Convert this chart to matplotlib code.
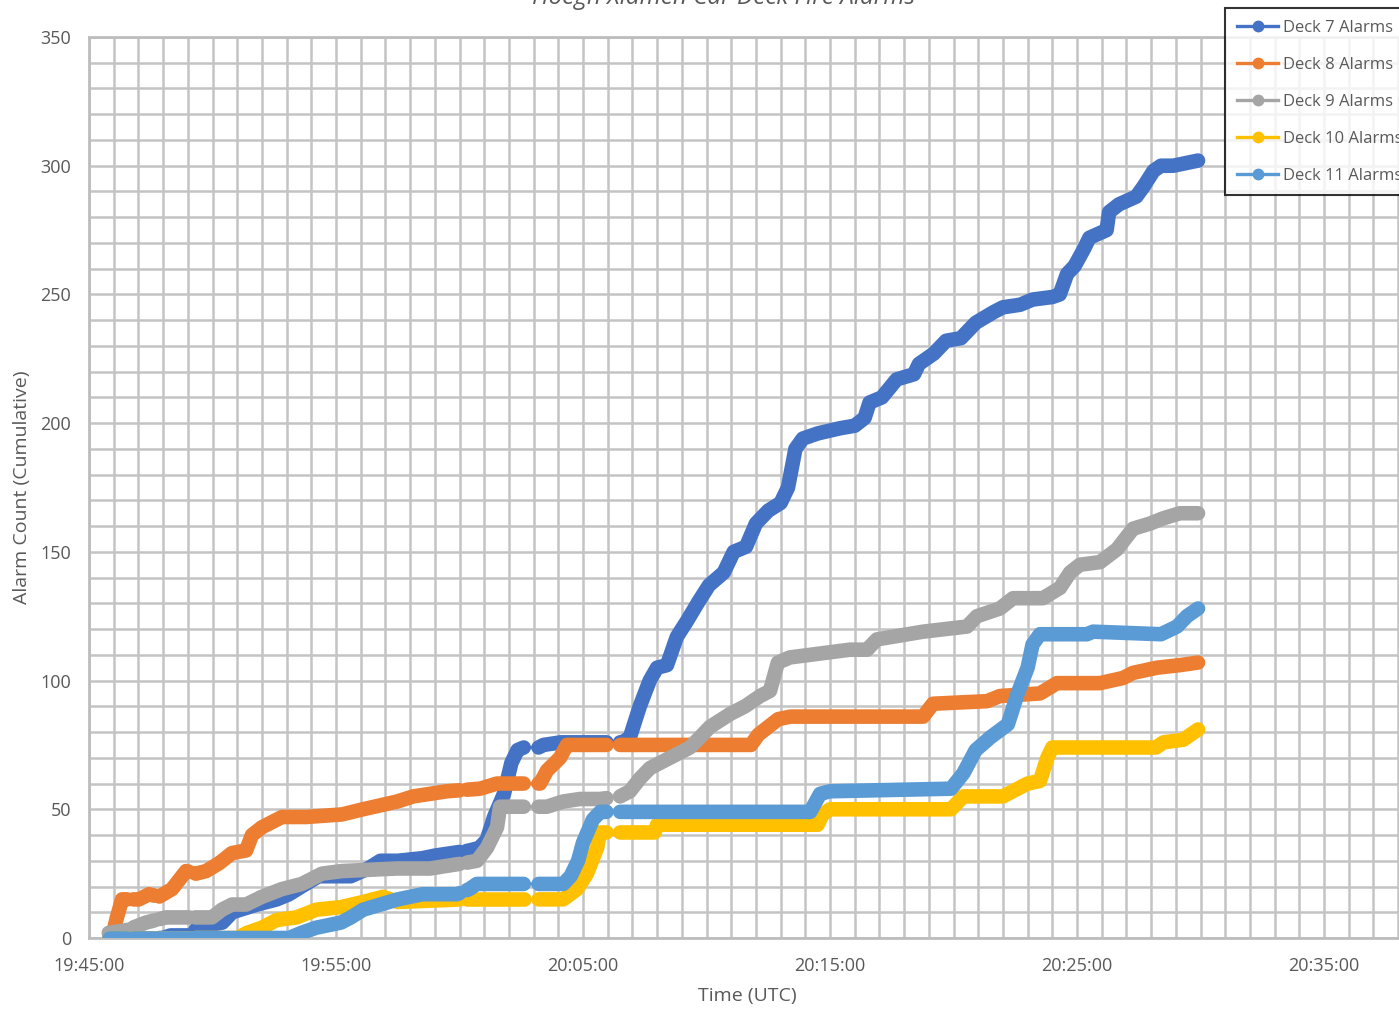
import numpy as np
import matplotlib
matplotlib.use("Agg")
import matplotlib.pyplot as plt
from matplotlib.lines import Line2D

plt.rcParams['font.family'] = ['Open Sans', 'DejaVu Sans']

# ---------------- data (time in minutes after 19:45:00 UTC) ----------------
deck7_t = [0.8, 3.0, 3.3, 4.1, 4.4, 5.4, 5.8, 6.8, 7.6, 8.1, 8.6, 9.3, 10.6, 11.3, 11.8, 12.5,
           13.5, 14.0, 14.7, 15.4, 15.8, 16.1, 16.4, 16.8, 17.1, 17.35, 17.6, 18.2, 18.4, 19.1,
           21.6, 21.9, 22.3, 22.7, 23.0, 23.4, 23.8, 24.2, 24.7, 25.1, 25.7, 26.1, 26.6, 27.0,
           27.5, 28.0, 28.3, 28.6, 28.9, 29.5, 30.4, 31.0, 31.4, 31.6, 32.1, 32.7, 33.4, 33.6,
           34.2, 34.7, 35.3, 35.9, 36.6, 37.0, 37.7, 38.2, 39.0, 39.3, 39.6, 39.9, 40.3, 40.5,
           41.2, 41.3, 41.7, 42.4, 42.7, 43.1, 43.4, 43.9, 44.4, 44.9]
deck7_v = [0, 0, 1, 1, 4, 6, 10, 13, 15, 17, 20, 24, 24, 27, 30, 30,
           31, 32, 33, 34, 35, 38, 47, 56, 68, 73, 74, 74, 75, 76,
           76, 78, 90, 100, 105, 106, 117, 123, 131, 137, 142, 150, 152, 161,
           166, 169, 175, 190, 194, 196, 198, 199, 202, 208, 210, 217, 219, 223,
           227, 232, 233, 239, 243, 245, 246, 248, 249, 250, 258, 261, 268, 272,
           275, 282, 285, 288, 292, 298, 300, 300, 301, 302]

deck8_t = [0.93, 1.13, 1.34, 2.02, 2.43, 2.83, 3.36, 3.93, 4.33, 4.74, 5.26, 5.79, 6.36, 6.6,
           7.0, 7.81, 8.79, 10.24, 11.09, 12.47, 13.12, 14.49, 15.83, 16.52, 17.45, 18.26,
           18.54, 19.07, 19.35, 26.8, 27.1, 27.5, 27.9, 28.4, 33.77, 34.17, 36.36, 36.88,
           38.5, 39.19, 40.93, 41.86, 42.27, 43.24, 44.17, 44.9]
deck8_v = [0, 8, 15, 15, 17, 16, 19, 26, 25, 26, 29, 33, 34, 40,
           43, 47, 47, 48, 50, 53, 55, 57, 58, 60, 60, 60,
           65, 70, 75, 75, 79, 82, 85, 86, 86, 91, 92, 94,
           95, 99, 99, 101, 103, 105, 106, 107]

deck9_t = [0.8, 1.5, 2.31, 3.12, 4.98, 5.38, 5.79, 6.36, 7.0, 7.81, 8.62, 9.43, 10.24, 12.47,
           13.81, 15.14, 15.71, 16.11, 16.52, 16.64, 17.45, 18.54, 19.19, 19.88, 20.69, 21.5,
           21.9, 22.31, 22.71, 23.52, 24.33, 24.74, 25.14, 25.95, 26.56, 27.17, 27.57, 27.89,
           28.38, 29.19, 30.0, 30.81, 31.5, 31.9, 33.77, 35.55, 35.95, 36.88, 37.41, 38.62,
           39.31, 39.72, 40.12, 40.93, 41.62, 42.27, 42.96, 43.48, 44.17, 44.9]
deck9_v = [2, 3, 6, 8, 8, 11, 13, 13, 16, 19, 21, 25, 26, 27,
           27, 29, 30, 35, 43, 51, 51, 51, 53, 54, 54, 55,
           57, 62, 66, 70, 74, 78, 82, 87, 90, 94, 96, 107,
           109, 110, 111, 112, 112, 116, 119, 121, 125, 128, 132, 132,
           136, 142, 145, 146, 151, 159, 161, 163, 165, 165]

deck10_t = [0.8, 6.0, 6.4, 7.0, 7.6, 8.4, 9.2, 10.2, 11.1, 11.9, 12.5, 15.1, 19.2, 19.76,
            20.16, 20.57, 20.69, 21.5, 22.9, 23.0, 29.5, 29.7, 30.0, 34.9, 35.4, 37.0, 37.4,
            38.0, 38.5, 38.8, 39.0, 43.2, 43.5, 44.3, 44.9]
deck10_v = [0, 0, 2, 4, 7, 8, 11, 12, 14, 16, 14, 15, 15, 19,
            25, 35, 41, 41, 41, 44, 44, 48, 50, 50, 55, 55, 57,
            60, 61, 70, 74, 74, 76, 77, 81]

deck11_t = [0.8, 8.1, 8.6, 9.2, 10.2, 10.6, 11.1, 11.8, 12.5, 13.5, 14.9, 15.4, 15.7, 19.2,
            19.5, 19.8, 20.0, 20.4, 20.7, 29.2, 29.6, 30.0, 34.9, 35.4, 35.9, 36.5, 37.2,
            37.6, 38.0, 38.2, 38.5, 40.4, 40.65, 43.4, 44.05, 44.45, 44.9]
deck11_v = [0, 0, 2, 4, 6, 8, 11, 13, 15, 17, 17, 19, 21, 21,
            24, 30, 37, 46, 49, 49, 56, 57, 58, 64, 73, 78, 83,
            95, 105, 114, 118, 118, 119, 118, 121, 125, 128]

# quiet intervals with no alarm events (minutes after 19:45)
gaps = [(1.55, 1.8), (2.65, 2.85), (4.05, 4.3), (15.0, 15.3), (17.6, 18.2), (20.95, 21.5)]

series_names = ['Deck 7 Alarms', 'Deck 8 Alarms', 'Deck 9 Alarms', 'Deck 10 Alarms', 'Deck 11 Alarms']
series_colors = ['#4472C4', '#ED7D31', '#A5A5A5', '#FFC000', '#5B9BD5']
x_tick_pos = [0, 10, 20, 30, 40, 50]
x_tick_labels = ['19:45:00', '19:55:00', '20:05:00', '20:15:00', '20:25:00', '20:35:00']
y_ticks = [0, 50, 100, 150, 200, 250, 300, 350]

# ---------------- figure ----------------
W, H = 1399, 1009
fig = plt.figure(figsize=(W / 100, H / 100), dpi=100)
ax = fig.add_axes([89 / W, 1 - 938 / H, (1447.5 - 89) / W, (938 - 37) / H])
ax.set_xlim(0, 55)
ax.set_ylim(0, 350)

ax.set_xticks(x_tick_pos)
ax.set_xticklabels(x_tick_labels)
ax.set_xticks(np.arange(0, 56, 1), minor=True)
ax.set_yticks(y_ticks)
ax.set_yticks(np.arange(0, 351, 10), minor=True)
ax.tick_params(which='both', length=0)
ax.tick_params(axis='x', pad=13.5, labelsize=13, labelcolor='#595959')
ax.tick_params(axis='y', pad=13, labelsize=13, labelcolor='#595959')
ax.grid(which='both', color='#c4c4c4', lw=1.8)
ax.set_axisbelow(True)
for s in ax.spines.values():
    s.set_color('#bdbdbd')
    s.set_linewidth(2)

ax.set_xlabel('Time (UTC)', fontsize=14, color='#595959')
ax.xaxis.set_label_coords((747 - 89) / 1358.5, (938 - 996) / 901)
ax.xaxis.label.set_va('center')
ax.set_ylabel('Alarm Count (Cumulative)', fontsize=14, color='#595959')
ax.yaxis.set_label_coords((22 - 89) / 1358.5, (938 - 487) / 901)
ax.yaxis.label.set_va('center')

fig.text(724 / W, 1 - 4 / H, 'Hoegh Xiamen Car Deck Fire Alarms', fontsize=17.5,
         style='italic', color='#595959', ha='center', va='baseline')

all_t = [deck7_t, deck8_t, deck9_t, deck10_t, deck11_t]
all_v = [deck7_v, deck8_v, deck9_v, deck10_v, deck11_v]


def draw_series(t, v, color, z):
    t = np.asarray(t, float)
    v = np.asarray(v, float)
    ax.plot(t, v, color=color, lw=2.4, zorder=z, solid_capstyle='round',
            solid_joinstyle='round')
    bounds = [t[0]]
    for a, b in gaps:
        if t[0] < a and b < t[-1]:
            bounds += [a, b]
    bounds.append(t[-1])
    for a, b in zip(bounds[0::2], bounds[1::2]):
        inner = (t > a) & (t < b)
        ts = np.concatenate([[a], t[inner], [b]])
        vs = np.interp(ts, t, v)
        ax.plot(ts, vs, color=color, lw=10.5, zorder=z, solid_capstyle='round',
                solid_joinstyle='round')


for i, (t, v, c) in enumerate(zip(all_t, all_v, series_colors)):
    draw_series(t, v, c, 3 + i)

handles = [Line2D([0], [0], color=c, lw=2.4, marker='o', markersize=7.5) for c in series_colors]
leg = fig.legend(handles, series_names, loc='upper left',
                 bbox_to_anchor=(1225 / W, 1 - 8 / H), frameon=True, fancybox=False,
                 edgecolor='black', borderaxespad=0, borderpad=0.7, labelspacing=1.26,
                 handlelength=2.5, handletextpad=0.3, fontsize=12)
leg.get_frame().set_linewidth(1.5)
for txt in leg.get_texts():
    txt.set_color('#595959')

fig.savefig('out.png', dpi=100)
